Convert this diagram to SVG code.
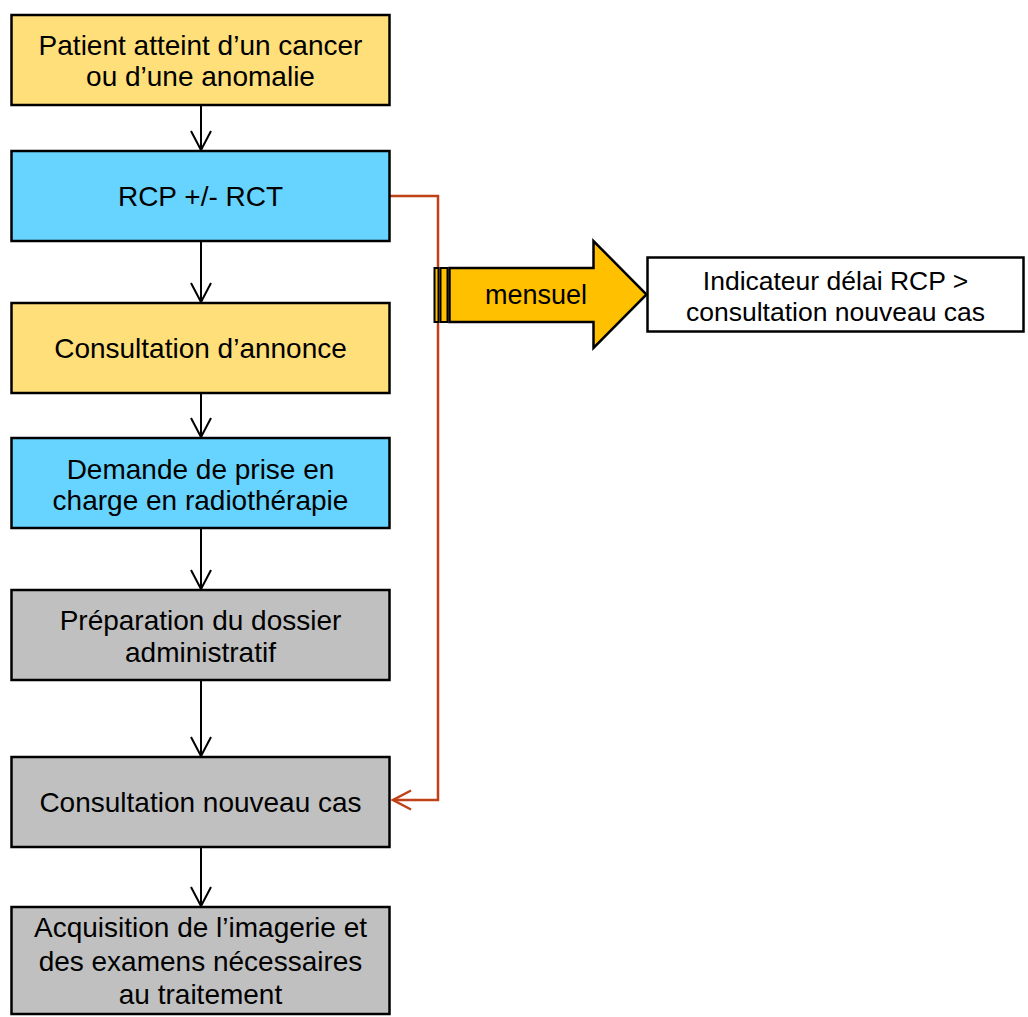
<svg xmlns="http://www.w3.org/2000/svg" width="1028" height="1017" viewBox="0 0 1028 1017">
  <style>
    .box { stroke: #000; stroke-width: 2.5; }
    .yellow { fill: #FFDF7A; }
    .blue { fill: #66D4FF; }
    .gray { fill: #C0C0C0; }
    .white { fill: #FFFFFF; }
    text { font-family: "Liberation Sans", Arial, sans-serif; font-size: 28px; fill: #000; text-anchor: middle; }
    .small { font-size: 26.5px; }
    .flow { stroke: #000; stroke-width: 2; fill: none; }
    .link { stroke: #BF4117; stroke-width: 2.5; fill: none; }
  </style>
  <defs>
    <marker id="arrow" markerUnits="userSpaceOnUse" markerWidth="26" markerHeight="26" viewBox="-23 -13 26 26" refX="0" refY="0" orient="auto">
      <path d="M -19,-10 L 0,0 L -19,10" fill="none" stroke="#000" stroke-width="2"/>
    </marker>
    <marker id="arrowRed" markerUnits="userSpaceOnUse" markerWidth="26" markerHeight="26" viewBox="-23 -13 26 26" refX="0" refY="0" orient="auto">
      <path d="M -18,-9.5 L 0,0 L -18,9.5" fill="none" stroke="#BF4117" stroke-width="2.5"/>
    </marker>
  </defs>

  <!-- connectors -->
  <g id="connectors">
    <line class="flow" x1="201" y1="105" x2="201" y2="150" marker-end="url(#arrow)"/>
    <line class="flow" x1="201" y1="241" x2="201" y2="302" marker-end="url(#arrow)"/>
    <line class="flow" x1="201" y1="393" x2="201" y2="437" marker-end="url(#arrow)"/>
    <line class="flow" x1="201" y1="528" x2="201" y2="589" marker-end="url(#arrow)"/>
    <line class="flow" x1="201" y1="680" x2="201" y2="756" marker-end="url(#arrow)"/>
    <line class="flow" x1="201" y1="847" x2="201" y2="906" marker-end="url(#arrow)"/>
    <polyline class="link" points="390,196 438,196 438,800 393,800" marker-end="url(#arrowRed)"/>
  </g>

  <g id="node-patient">
    <rect class="box yellow" x="11.5" y="15" width="378" height="90"/>
    <text x="200.5" y="55">Patient atteint d’un cancer</text>
    <text x="200.5" y="86">ou d’une anomalie</text>
  </g>

  <g id="node-rcp">
    <rect class="box blue" x="11.5" y="151" width="378" height="90"/>
    <text x="200.5" y="206">RCP +/- RCT</text>
  </g>

  <g id="node-annonce">
    <rect class="box yellow" x="11.5" y="303" width="378" height="90"/>
    <text x="200.5" y="358">Consultation d’annonce</text>
  </g>

  <g id="node-demande">
    <rect class="box blue" x="11.5" y="438" width="378" height="90"/>
    <text x="200.5" y="479">Demande de prise en</text>
    <text x="200.5" y="510">charge en radiothérapie</text>
  </g>

  <g id="node-dossier">
    <rect class="box gray" x="11.5" y="590" width="378" height="90"/>
    <text x="200.5" y="630">Préparation du dossier</text>
    <text x="200.5" y="662">administratif</text>
  </g>

  <g id="node-nouveau-cas">
    <rect class="box gray" x="11.5" y="757" width="378" height="90"/>
    <text x="200.5" y="812">Consultation nouveau cas</text>
  </g>

  <g id="node-imagerie">
    <rect class="box gray" x="11.5" y="907" width="378" height="107"/>
    <text x="200.5" y="937">Acquisition de l’imagerie et</text>
    <text x="200.5" y="971">des examens nécessaires</text>
    <text x="200.5" y="1004">au traitement</text>
  </g>

  <!-- striped block arrow -->
  <g id="node-mensuel">
    <rect x="434.5" y="268" width="4" height="54" fill="#FFC000" stroke="#000" stroke-width="2"/>
    <rect x="440.5" y="268" width="7" height="54" fill="#FFC000" stroke="#000" stroke-width="2"/>
    <path d="M 449.5,268 L 593.5,268 L 593.5,241 L 646.5,294.5 L 593.5,348 L 593.5,322 L 449.5,322 Z" fill="#FFC000" stroke="#000" stroke-width="2.5" stroke-linejoin="miter"/>
    <text x="536" y="304" style="font-size:27px">mensuel</text>
  </g>

  <g id="node-indicateur">
    <rect class="box white" x="647.5" y="257.5" width="376" height="74"/>
    <text class="small" x="835.5" y="290">Indicateur délai RCP &gt;</text>
    <text class="small" x="835.5" y="321">consultation nouveau cas</text>
  </g>
</svg>
